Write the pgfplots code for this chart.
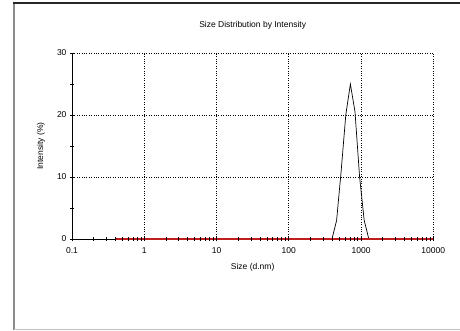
\documentclass[border=0pt]{standalone}
\usepackage{pgfplots}
\pgfplotsset{compat=1.18}
\usepackage{fontspec}
\setmainfont{Liberation Sans}
\definecolor{dred}{RGB}{190,30,30}
\begin{document}
\begin{tikzpicture}
\path[use as bounding box] (0pt,0pt) rectangle (460pt,331pt);
\draw[gray!90, line width=2pt] (14pt,1pt) -- (14pt,329pt);
\draw[black!85, line width=1.2pt] (13pt,328pt) -- (460pt,328pt);
\draw[gray!50, line width=1pt] (14pt,1pt) -- (460pt,1pt);
\begin{axis}[
  at={(72pt,92pt)}, anchor=south west,
  width=361.3pt, height=186pt, scale only axis,
  xmode=log, xmin=0.1, xmax=10000, ymin=0, ymax=30,
  axis x line=bottom, axis y line=left,
  axis line style={-, black, line width=0.7pt},
  xtick={0.1,1,10,100,1000,10000},
  xticklabels={0.1,1,10,100,1000,10000},
  ytick={0,10,20,30},
  minor ytick={5,15,25},
  tick align=center,
  major tick length=4pt, minor tick length=4pt,
  tick style={black, line width=0.6pt},
  grid=major,
  major grid style={black, dotted, line width=0.8pt},
  clip=false,
  font=\fontsize{8.5}{10}\selectfont,
  ticklabel style={font=\fontsize{8.5}{10}\selectfont},
  /pgf/number format/assume math mode=true,
  xlabel={Size (d.nm)},
  every axis x label/.style={at={(axis description cs:0.5,0)}, anchor=north, yshift=-21pt},
  title={Size Distribution by Intensity},
  every axis title/.style={at={(axis description cs:0.5,1)}, anchor=south, yshift=20pt},
  xticklabel style={yshift=-3pt},
]
\addplot[black, line width=0.7pt] coordinates {
 (396,0) (459,3) (531,11) (615,20) (712,25) (825,20.5) (955,10) (1106,3) (1281,0)
};
\end{axis}
\begin{axis}[
  at={(72pt,92pt)}, anchor=south west,
  width=361.3pt, height=186pt, scale only axis,
  xmode=log, xmin=0.1, xmax=10000, ymin=0, ymax=30,
  axis x line=bottom, axis y line=none,
  x axis line style={draw=none},
  xtick={0.1,1,10,100,1000,10000},
  xticklabels={},
  tick align=center,
  major tick length=4pt, minor tick length=4pt,
  tick style={black, line width=0.6pt},
  axis on top, clip=false,
]
\addplot[dred, line width=1.1pt] coordinates {(0.4,0) (10000,0)};
\end{axis}
\node[rotate=90, font=\fontsize{8.5}{10}\selectfont] at (41pt,185pt) {Intensity (\%)};
\end{tikzpicture}
\end{document}
